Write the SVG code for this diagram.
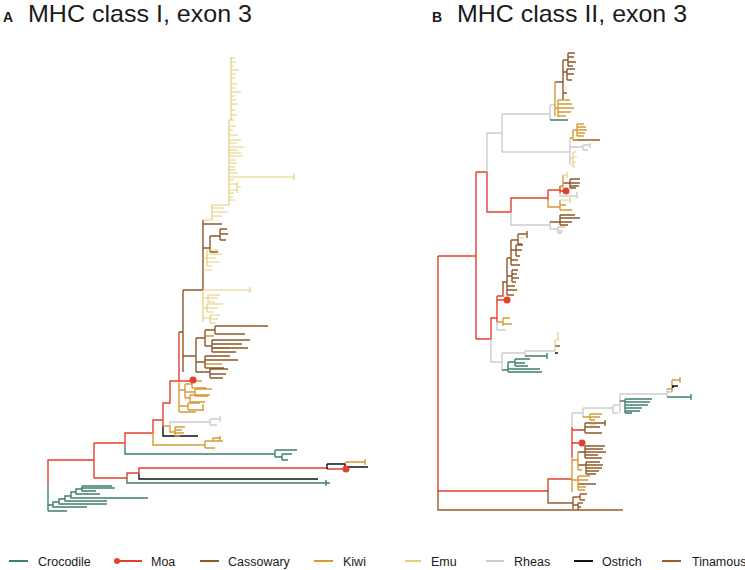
<svg xmlns="http://www.w3.org/2000/svg" width="745" height="570" viewBox="0 0 745 570">
<style>
.t{fill:none;stroke-width:1.4;stroke-linejoin:miter;stroke-linecap:butt}
.cr{stroke:#3f7f6e}.mo{stroke:#e2412d}.ca{stroke:#8b5a2b}.ki{stroke:#d89a38}.em{stroke:#e4cf7c}.rh{stroke:#cdcdcd}.os{stroke:#111}.ti{stroke:#9c5c2b}
.dot{fill:#e2412d}
.ttl{font-family:"Liberation Sans",Arial,sans-serif;font-size:24px;fill:#1a1a1a}
.lab{font-family:"Liberation Sans",Arial,sans-serif;font-weight:bold;font-size:14px;fill:#1a1a1a}
.lg{font-family:"Liberation Sans",Arial,sans-serif;font-size:12.5px;fill:#1a1a1a}
</style>
<rect width="745" height="570" fill="#fff"/>
<g id="titles">
<text class="lab" x="3" y="22">A</text>
<text class="ttl" x="28" y="22" textLength="224" lengthAdjust="spacingAndGlyphs">MHC class I, exon 3</text>
<text class="lab" x="432" y="22">B</text>
<text class="ttl" x="457" y="22" textLength="230" lengthAdjust="spacingAndGlyphs">MHC class II, exon 3</text>
</g>
<g id="panelA">
<path class="t mo" d="M48 483V460H94M94 443V478M94 443H125V433H153V420H163V403H170V381H179V332M163 403V426M179 381H193M94 478H127V473H139V468H327M139 468V474M127 473V478M125 433V446M153 420V432M327 469H346"/>
<path class="t cr" d="M125 446V454H275M275 450V457M275 450H297M275 457H282M282 454V460M282 454H292M282 460H288M127 478V483H330M326 480V486M48 483V511M48 511H67M48 505H53V502H59V499H65V496H71V492H76V489H82V486M53 502V507H87M59 499V504H107M65 496V501H107M71 492V498H148M76 489V494H100M82 486V491H96M82 486H112M82 488H115"/>
<path class="t os" d="M163 426V436H198M139 474V479H318M327 464V469M327 464H345V467H368"/>
<path class="t ki" d="M153 432V445H205M205 441V448M205 441H213V438H220M213 441H223M220 436V441M205 448H215M345 462H365M365 459V465M163 426H170V432H175V427V436M175 427H185M175 430H182M175 433H184M175 436H180M179 381V412M179 390H185V384V398M185 384H192V381V388M192 381H202M192 388H206M185 392H195V389V396M195 389H212M195 396H208M185 398H190V395V402M190 395H210M190 402H205M179 406H188V403V410M188 403H200M188 410H203M203 404V411M179 412H196M205 336H214M205 364H222M212 348H230"/>
<path class="t rh" d="M170 426V422H210M210 419V425M210 419H220V416V422M210 425H217"/>
<path class="t ca" d="M179 332H183M183 290V372M183 290H203M203 220V290M203 224H222M203 248H210V236V252M210 236H220V229V240M220 229H227M220 234H228M220 240H226M210 252H218M183 356H196V338V372M196 338H205V330V346M205 330H215V326V334M215 326H268M215 334H245M205 346H212V340V352M212 340H250M212 344H242M212 348H248M212 352H236M196 362H205V356V368M205 356H230M205 360H238M205 368H224M196 372H210V369V378M210 369H228M210 378H223M210 374H226"/>
<path class="t em" style="stroke-width:1.2" d="M203 220H212V205H229M229 205V120H231V57M231 58H235M231 62H236M231 66H234M231 70H239M231 74H236M231 78H235M231 84H237M231 88H236M231 92H241M231 96H235M231 100H236M231 104H238M231 110H235M231 115H237M229 120H234M229 126H236M229 130H233M229 135H238M229 140H241M229 143H237M229 147H244M229 150H238M229 153H241M229 156H243M229 160H236M229 163H237M229 167H235M229 170H236M229 173H238M229 177H294M294 174V180M229 180H234M229 184H237V182V193M237 187H241M229 190H237M229 193H234M229 197H233M229 200H235M212 208H224M212 212H228M212 216H222M203 258H207V250V266M207 250H218M207 254H222M207 258H216M207 262H220M207 266H212M203 270H212M203 290V322M203 290H212M212 290H250M250 287V293M203 298H208V295V302M208 295H220M208 298H218M208 302H215M203 308H207V304V312M207 304H223M207 308H218M207 312H214M203 318H210V315V323M210 315H220M210 319H218M210 323H216"/>
<circle class="dot" cx="193" cy="380" r="3.5"/>
<circle class="dot" cx="346" cy="469" r="3.5"/>
</g>
<g id="panelB">
<path class="t mo" d="M438 256V491M438 256H476M476 172V339M476 172H487V212H511V198H548V200M548 190V200M548 190H560M560 186V193M560 191H566M476 339H491V318H497M497 296V322M497 300H507M497 296H503V290M438 491H548V479H572M572 427V457M572 443H582M572 430H580"/>
<path class="t rh" d="M487 172V133H502M502 114V152M502 114H550M502 152H570M550 105V120M550 105H555M570 138V165M570 147H583M583 145V150M583 145H590M583 150H588M590 143V148M511 212V225H550M550 222V229M550 229H558M558 227V233M558 227H565M558 231H563M558 233H562M560 193V196H577M577 192V198M491 339V362H502M502 353V370M502 353H525M525 351V356M525 351H555M572 413V427M572 413H583M583 408V418M583 408H613M613 405V413M613 413H618M613 405H620M620 394V413M620 394H667M667 389V397M667 392H672M497 322V330H506"/>
<path class="t cr" d="M550 120H568M525 356H547M547 353V359M502 370H508V362V372M508 362H515V359V366M515 359H530M515 363H525M515 366H528M508 369H540M508 372H542M620 401H625V399V413M625 399H652M625 402H650M625 405H648M625 408H642M625 411H640M625 413H632M667 397H691M691 394V400"/>
<path class="t ca" d="M555 82H563M563 60V100M563 60H568V53V66M568 53H575M568 57H574M568 62H576M568 66H573M563 72H567V69V80M567 69H575M567 74H574M567 80H572M563 93H567M570 183H580M570 179V188M570 179H580M570 186H579M570 188H576M563 183H570M550 222H560V215V225M560 215H575M560 218H580M560 222H572M560 225H568M503 290V282H507M507 258V295M507 295H514M507 290H517M507 286H515M507 276H512V270V282M512 270H518M512 274H517M512 278H519M512 282H516M507 258H511M511 240V265M511 265H520M511 260H518M511 250H516V245V256M516 245H523M516 250H522M516 256H520M511 240H518V234V244M518 234H527M527 231V238M518 244H522M578 452H585V446V458M585 446H605M585 449H603M585 452H606M585 455H598M585 458H602M578 465H586V462V474M586 462H600M586 465H603M586 468H602M586 471H599M586 474H596M578 484H596M580 430H585V423V433M585 423H605M605 420V426M585 427H600M585 433H602M555 346H560"/>
<path class="t ti" d="M438 491V510H623M548 491V503H573V497V509M573 497H580V494V500M580 494H587M580 500H585M573 505H578V503V510M578 503H583M578 507H581M573 140H600"/>
<path class="t ki" d="M555 82V116M555 108H558V100V117M558 100H570M558 104H572M558 108H574M558 112H571M558 116H566M570 138H573V130V140M573 130H577V124V136M577 124H584M577 127H586M577 130H587M577 133H585M577 136H584M573 140H578M548 200V207H560V200V210M560 205H566M560 210H572M560 186H563M563 175V188M497 322H503V318V326M503 318H510M503 324H512M572 457V492M572 460H578V452V470M578 470H582M572 480H578V476V490M578 476H590M578 480H588M578 487H586M578 490H585M583 417H590V414V420M590 414H602M590 417H600M590 420H595M672 380H680V377V383M667 389H672V380V392"/>
<path class="t em" style="stroke-width:1.2" d="M563 88H566M563 100H565M570 158H573V152V167M573 152H576M573 157H577M573 162H576M573 167H575M563 175H567V172V178M560 200H570V197V203M518 238H524M555 340H558V332M555 340V351M590 425H596"/>
<path class="t os" d="M555 353H558M672 386H678M672 387H674"/>
<circle class="dot" cx="566" cy="191" r="3.5"/>
<circle class="dot" cx="507" cy="300" r="3.5"/>
<circle class="dot" cx="582" cy="443" r="3.5"/>
</g>
<g id="legend">
<line class="t cr" x1="9" y1="561" x2="28" y2="561" style="stroke-width:2"/>
<text class="lg" x="38" y="566">Crocodile</text>
<line class="t mo" x1="117" y1="561" x2="142" y2="561" style="stroke-width:2"/>
<circle class="dot" cx="117" cy="561" r="3"/>
<text class="lg" x="151" y="566">Moa</text>
<line class="t ca" x1="200" y1="561" x2="219" y2="561" style="stroke-width:2"/>
<text class="lg" x="228" y="566">Cassowary</text>
<line class="t ki" x1="314" y1="561" x2="333" y2="561" style="stroke-width:2"/>
<text class="lg" x="343" y="566">Kiwi</text>
<line class="t em" x1="405" y1="561" x2="421" y2="561" style="stroke-width:2"/>
<text class="lg" x="431" y="566">Emu</text>
<line class="t rh" x1="486" y1="561" x2="504" y2="561" style="stroke-width:2"/>
<text class="lg" x="514" y="566">Rheas</text>
<line class="t os" x1="574" y1="561" x2="593" y2="561" style="stroke-width:2"/>
<text class="lg" x="602" y="566">Ostrich</text>
<line class="t ti" x1="662" y1="561" x2="681" y2="561" style="stroke-width:2"/>
<text class="lg" x="692" y="566">Tinamous</text>
</g>
</svg>
